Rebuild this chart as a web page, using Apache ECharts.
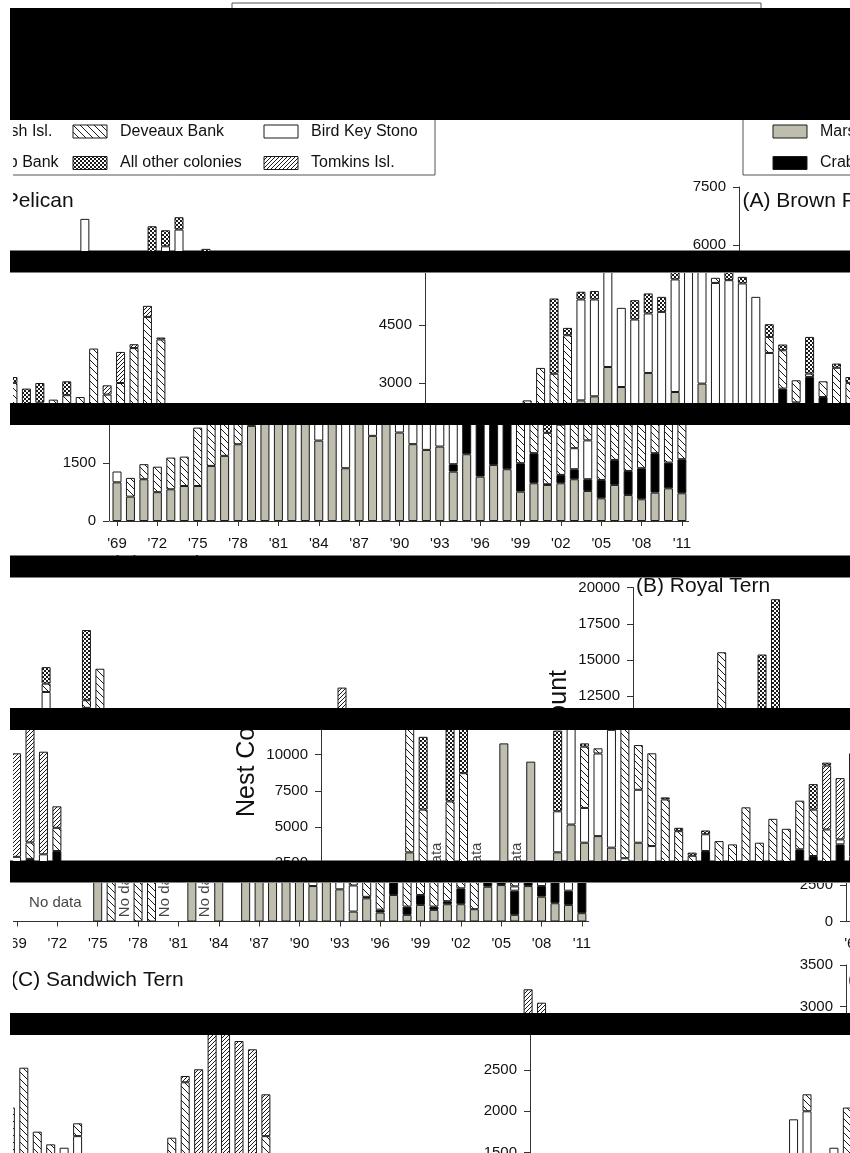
<!DOCTYPE html>
<html>
<head>
<meta charset="utf-8">
<title>Nest counts by colony</title>
<script src="https://cdn.jsdelivr.net/npm/echarts@6.0.0/dist/echarts.min.js"></script>
<style>
  html, body { margin: 0; padding: 0; background: #fff; }
  #page { position: relative; width: 850px; height: 1153px; overflow: hidden; background: #fff; }
  #frame { position: absolute; left: 0; top: 0; width: 850px; height: 1153px; }
  .strip { position: absolute; left: 13px; width: 837px; overflow: hidden; }
  .inner { position: absolute; left: -837px; width: 2280px; height: 1240px; }
</style>
</head>
<body>
<div id="page"><div id="frame"></div></div>
<script>
// ---- data ----
var years = ["'69","'70","'71","'72","'73","'74","'75","'76","'77","'78","'79","'80","'81","'82","'83","'84",
  "'85","'86","'87","'88","'89","'90","'91","'92","'93","'94","'95","'96","'97","'98","'99","'00","'01",
  "'02","'03","'04","'05","'06","'07","'08","'09","'10","'11"];
var colonies = ['Marsh Isl.', 'Crab Bank', 'Bird Key Stono', 'Deveaux Bank', 'Tomkins Isl.', 'All other colonies'];

// (A) Brown Pelican
var pelMarsh = [1000,630,1080,745,820,905,905,1425,1685,1985,2460,2550,2655,3414,2896,2080,3260,1365,2767,2202,2984,2288,1987,1839,1925,1277,1727,1148,1450,1339,759,976,933,976,1080,777,587,933,674,562,734,846,717];
var pelCrab = [0,0,0,0,0,0,0,0,0,0,0,0,0,0,0,0,0,0,0,0,0,0,0,0,0,192,1128,1350,1707,1298,735,778,17,216,259,303,475,647,621,803,1020,665,881];
var pelBird = [280,0,0,0,0,0,0,0,0,0,0,2610,2505,3262,2047,2562,1538,3474,2912,3764,3415,3300,3673,3736,3303,2308,0,0,0,0,0,0,0,0,544,1005,0,0,0,0,0,0,0];
var pelDev = [0,485,390,660,820,760,1510,1125,1705,1255,1775,0,0,0,0,0,0,0,0,0,0,132,0,0,0,415,992,572,86,407,1900,1250,1330,1300,687,600,1575,2311,1405,1635,2149,3199,2528];
var pelTom = [0,0,0,0,0,0,0,0,0,0,0,0,0,0,0,0,0,0,0,0,0,0,0,0,0,0,0,0,0,0,0,0,0,0,0,0,0,0,240,803,100,285,50];
var pelOther = [0,0,0,0,0,0,0,0,0,1945,190,200,220,0,0,500,518,389,806,415,319,0,240,171,0,329,148,0,949,0,108,151,575,508,0,359,0,0,0,0,0,0,0];

// (B) Royal Tern
var royMarsh = [0,0,0,0,0,0,3250,0,0,0,0,0,0,10767,0,9507,0,3253,5171,3918,4370,3575,2445,3918,2219,685,1600,616,1829,459,1144,801,1191,1191,849,2397,2511,459,2443,1712,1260,1144,575];
var royCrab = [0,0,0,0,0,0,0,0,0,0,0,0,0,0,0,0,0,0,0,0,0,0,0,0,0,0,100,200,1513,568,685,229,209,1097,0,1062,489,1664,1358,731,1540,979,2767];
var royBird = [0,0,0,0,0,0,0,0,0,0,0,0,0,0,0,0,0,2829,7624,2397,5700,8125,400,3650,1466,1800,0,0,1158,0,0,0,0,0,0,0,0,300,343,500,0,993,0];
var royDev = [0,0,0,0,0,0,12284,6200,0,6767,8712,0,0,0,0,0,0,0,575,4225,355,526,11552,3083,6397,4415,3012,2200,0,3000,1972,5326,2518,3274,4028,3356,3199,2406,0,0,1138,0,1603];
var royTom = [0,0,0,0,0,0,0,0,0,0,0,0,0,0,0,0,0,0,0,0,0,0,0,0,0,0,0,0,0,0,0,0,0,0,0,0,0,4409,4226,7139,9158,7076,1480];
var royOther = [0,0,0,0,0,0,0,5019,0,8610,10480,0,0,0,0,0,0,5568,1137,227,0,4842,0,0,0,141,233,217,260,0,0,0,0,0,0,0,1760,200,0,0,0,0,0];
var royNoData = [8, 11, 14];   // rotated "No data" years (index)

// (C) Sandwich Tern
var sanMarsh = [0,0,0,0,0,0,0,0,0,0,0,0,0,0,0,0,0,0,0,0,0,0,0,0,0,0,0,0,0,0,0,0,0,0,0,0,0,0,0,0,0,0,0];
var sanCrab = [0,0,0,0,0,0,0,0,0,0,0,0,0,0,0,0,0,0,0,0,0,0,0,0,0,0,0,0,0,0,0,0,0,0,0,0,0,0,0,0,0,0,0];
var sanBird = [0,0,0,0,0,0,0,0,0,0,0,0,0,0,0,0,0,0,0,1903,2000,0,1560,0,0,600,0,1560,1700,0,0,0,0,0,0,0,0,0,0,0,0,0,0];
var sanDev = [900,1100,700,1200,800,1000,1300,900,600,1100,800,1000,700,1200,900,1100,1300,1000,1400,0,205,1200,0,2045,2526,1154,1601,0,155,1300,1100,900,1200,1000,1350,1681,2350,1200,1000,900,700,600,1700];
var sanTom = [0,0,0,0,0,0,0,0,0,0,0,0,0,0,0,0,0,0,0,0,0,0,0,0,0,0,0,0,0,0,0,0,0,0,0,0,76,1307,2207,2145,2148,2148,505];
var sanOther = [0,0,0,0,0,0,0,0,0,0,0,0,0,0,0,0,0,0,0,0,0,0,0,0,0,0,0,0,0,0,0,0,0,0,0,0,0,0,0,0,0,0,0];

// ---- layout ----
var F = '"Liberation Sans", Arial, sans-serif';
var INK = '#111';
var LINE = '#333';
var W = 837;            // width of the rolled band
var AXIS_X = 96, FIRST_X = 104, STEP_X = 13.45, PLOT_H = 290;

function tile(size, draw) {
  var c = document.createElement('canvas');
  c.width = size; c.height = size;
  var g = c.getContext('2d');
  g.fillStyle = '#fff'; g.fillRect(0, 0, size, size);
  g.strokeStyle = '#1a1a1a'; g.fillStyle = '#1a1a1a'; g.lineWidth = 1;
  draw(g, size);
  return { image: c, repeat: 'repeat' };
}
var fills = [
  '#bebdae',
  '#000',
  '#fff',
  tile(7, function (g, s) { g.beginPath(); for (var k = -1; k <= 1; k++) { g.moveTo(k * s, 0); g.lineTo(k * s + s, s); } g.stroke(); }),
  tile(4, function (g, s) { g.beginPath(); for (var k = -1; k <= 1; k++) { g.moveTo(k * s, s); g.lineTo(k * s + s, 0); } g.stroke(); }),
  tile(4, function (g) { g.fillRect(0, 0, 2, 2); g.fillRect(2, 2, 2, 2); })
];

var panels = [
  { zero: 521, max: 7500, step: 1500, title: '(A) Brown Pelican', tx: 99.5, ty: 245.5,
    data: [pelMarsh, pelCrab, pelBird, pelDev, pelTom, pelOther] },
  { zero: 855.5, max: 20000, step: 2500, title: '(B) Royal Tern', tx: 99, ty: 564.5, yName: 'Nest Count',
    data: [royMarsh, royCrab, royBird, royDev, royTom, royOther], noData: royNoData },
  { zero: 1189, max: 3500, step: 500, title: '(C) Sandwich Tern', tx: 98, ty: 914,
    data: [sanMarsh, sanCrab, sanBird, sanDev, sanTom, sanOther] }
];

var legendCols = [130, 267, 458];
var legendRows = [175.5, 207];
var legendOrder = [[0, 3, 2], [1, 5, 4]];

function buildOption(shift) {
  var grid = [], xAxis = [], yAxis = [], series = [], elements = [];
  [shift + W, shift].forEach(function (X) {
    panels.forEach(function (p) {
      var gi = grid.length;
      grid.push({ left: X + FIRST_X - STEP_X / 2, top: p.zero - PLOT_H,
        width: years.length * STEP_X, height: PLOT_H, containLabel: false, outerBoundsMode: 'none' });
      xAxis.push({
        type: 'category', gridIndex: gi, data: years, boundaryGap: true,
        axisLine: { onZero: true, lineStyle: { color: LINE, width: 1 } },
        axisTick: { show: true, alignWithLabel: true, interval: 2, length: 5, lineStyle: { color: LINE } },
        axisLabel: { interval: 2, fontSize: 15, fontFamily: F, color: INK, margin: 15 },
        splitLine: { show: false }
      });
      yAxis.push({
        type: 'value', gridIndex: gi, min: 0, max: p.max, interval: p.step,
        offset: FIRST_X - STEP_X / 2 - AXIS_X,
        axisLine: { show: true, lineStyle: { color: LINE, width: 1 } },
        axisTick: { show: true, length: 6, lineStyle: { color: LINE } },
        axisLabel: { fontSize: 15, fontFamily: F, color: INK, margin: 13, formatter: function (v) { return String(v); } },
        splitLine: { show: false },
        name: p.yName || '', nameLocation: 'middle', nameGap: 61,
        nameTextStyle: { fontSize: 25, fontFamily: F, color: INK }
      });
      p.data.forEach(function (arr, si) {
        series.push({
          type: 'bar', name: colonies[si], xAxisIndex: gi, yAxisIndex: gi, stack: 'g' + gi,
          barWidth: 9, silent: true,
          data: arr.map(function (v) { return v > 0 ? v : '-'; }),
          itemStyle: { color: fills[si], borderColor: '#1a1a1a', borderWidth: 1 }
        });
      });
      if (p.noData) {
        series.push({
          type: 'scatter', xAxisIndex: gi, yAxisIndex: gi, silent: true, symbolSize: 1,
          itemStyle: { color: 'rgba(0,0,0,0)' },
          data: p.noData.map(function (i) { return [i, 300]; }),
          label: { show: true, formatter: 'No data', rotate: 90, position: 'inside',
            align: 'left', verticalAlign: 'middle', fontSize: 15, fontFamily: F, color: INK }
        });
        series.push({
          type: 'scatter', xAxisIndex: gi, yAxisIndex: gi, silent: true, symbolSize: 1,
          itemStyle: { color: 'rgba(0,0,0,0)' },
          data: [[3, 1276]],
          label: { show: true, formatter: 'No data', position: 'inside', offset: [-2, 0],
            align: 'center', verticalAlign: 'middle', fontSize: 15, fontFamily: F, color: INK }
        });
      }
      elements.push({ type: 'text', x: X + p.tx, y: p.ty, silent: true,
        style: { text: p.title, font: '21px ' + F, fill: INK, align: 'left', verticalAlign: 'middle' } });
    });
    // legend box
    elements.push({ type: 'rect', silent: true, shape: { x: X + 100, y: 158, width: 529, height: 61 },
      style: { fill: 'rgba(0,0,0,0)', stroke: '#555', lineWidth: 1 } });
    legendOrder.forEach(function (row, r) {
      row.forEach(function (si, c) {
        var x0 = X + legendCols[c], yc = legendRows[r];
        elements.push({ type: 'rect', silent: true, shape: { x: x0, y: yc - 6.5, width: 34, height: 13 },
          style: { fill: fills[si], stroke: '#1a1a1a', lineWidth: 1 } });
        elements.push({ type: 'text', silent: true, x: x0 + 47, y: yc,
          style: { text: colonies[si], font: '16px ' + F, fill: INK, align: 'left', verticalAlign: 'middle' } });
      });
    });
  });
  return { animation: false, grid: grid, xAxis: xAxis, yAxis: yAxis, series: series, graphic: { elements: elements } };
}

// strips of the page: top, height, vertical offset, horizontal roll
var strips = [
  { top: 0, h: 8, off: -155, shift: 119 },
  { top: 120, h: 130.5, off: -44, shift: 630 },
  { top: 272.5, h: 130.5, off: -22, shift: 316 },
  { top: 425, h: 130.5, off: 0, shift: 0 },
  { top: 577.5, h: 130.5, off: 22, shift: 524 },
  { top: 730, h: 130.5, off: 44, shift: 212 },
  { top: 882.5, h: 130.5, off: 66, shift: 737 },
  { top: 1035, h: 130.5, off: 88, shift: 421 }
];
var blackBands = [[8, 120], [250.5, 272.5], [403, 425], [555.5, 577.5], [708, 730], [860.5, 882.5], [1013, 1035]];

var page = document.getElementById('page');
var frame = echarts.init(document.getElementById('frame'), null, { renderer: 'canvas', devicePixelRatio: 1 });
frame.setOption({
  animation: false,
  graphic: { elements: blackBands.map(function (b) {
    return { type: 'rect', silent: true, shape: { x: 10, y: b[0], width: 840, height: b[1] - b[0] }, style: { fill: '#000' } };
  }) }
});

strips.forEach(function (s) {
  var clip = document.createElement('div');
  clip.className = 'strip';
  clip.style.top = s.top + 'px';
  clip.style.height = s.h + 'px';
  var inner = document.createElement('div');
  inner.className = 'inner';
  inner.style.top = (s.off - s.top) + 'px';
  clip.appendChild(inner);
  page.appendChild(clip);
  var chart = echarts.init(inner, null, { renderer: 'canvas', devicePixelRatio: 1 });
  chart.setOption(buildOption(s.shift));
});
</script>
</body>
</html>
